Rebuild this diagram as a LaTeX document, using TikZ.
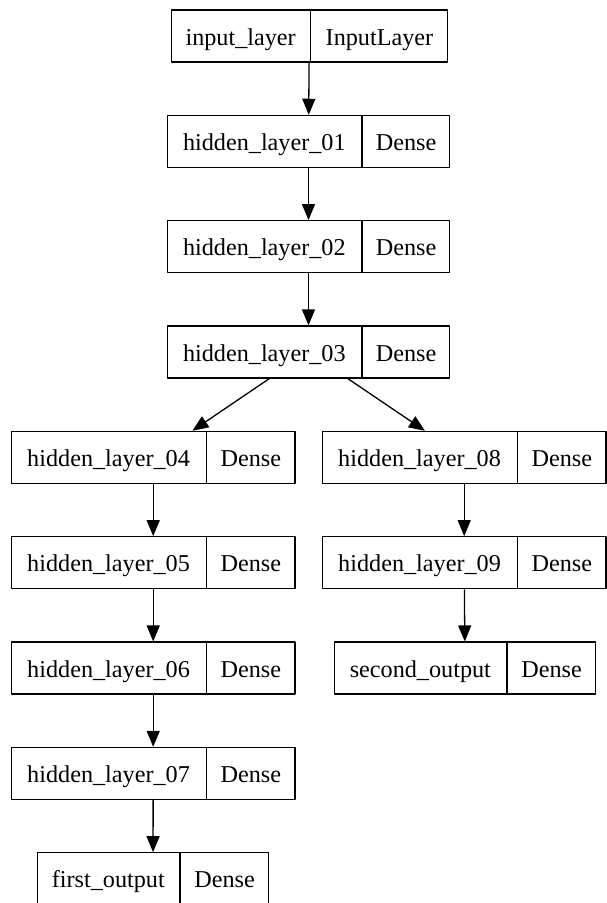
\documentclass[tikz,border=0pt]{standalone}
\usepackage{fontspec}
\setmainfont{Liberation Serif}
\usetikzlibrary{shapes.multipart,arrows.meta}

\newcommand\recfields[4]{\makebox[#1pt]{\rule[-17pt]{0pt}{52pt}#2}\nodepart{two}\makebox[#3pt]{\rule[-17pt]{0pt}{52pt}#4}}

\tikzset{
  layer/.style={draw, line width=1.3pt, rectangle split, rectangle split horizontal,
    rectangle split parts=2, inner sep=0pt, font=\fontsize{24.2}{29}\selectfont},
  flow/.style={-{Triangle[length=16pt,width=13pt]}, line width=1.3pt}
}

\begin{document}
\begin{tikzpicture}[x=1pt, y=-1pt, line join=round]
  \useasboundingbox (0,0) rectangle (606,903);

  % main trunk
  \node[layer] (lin) at (309.3,36)   {\recfields{139}{input\_layer}{136}{InputLayer}};
  \node[layer] (l01) at (308.5,141.4) {\recfields{194}{hidden\_layer\_01}{87}{Dense}};
  \node[layer] (l02) at (308.5,246.7) {\recfields{194}{hidden\_layer\_02}{87}{Dense}};
  \node[layer] (l03) at (308.5,352)   {\recfields{194}{hidden\_layer\_03}{87}{Dense}};

  % left branch
  \node[layer] (l04) at (153.2,457.4) {\recfields{194}{hidden\_layer\_04}{88}{Dense}};
  \node[layer] (l05) at (153.2,562.8) {\recfields{194}{hidden\_layer\_05}{88}{Dense}};
  \node[layer] (l06) at (153.2,668.1) {\recfields{194}{hidden\_layer\_06}{88}{Dense}};
  \node[layer] (l07) at (153.2,773.5) {\recfields{194}{hidden\_layer\_07}{88}{Dense}};
  \node[layer] (out1) at (153,878.8)  {\recfields{142}{first\_output}{88}{Dense}};

  % right branch
  \node[layer] (l08) at (464.2,457.4) {\recfields{194}{hidden\_layer\_08}{88}{Dense}};
  \node[layer] (l09) at (464.2,562.8) {\recfields{194}{hidden\_layer\_09}{88}{Dense}};
  \node[layer] (out2) at (465,668.1)  {\recfields{172}{second\_output}{88}{Dense}};

  \draw[flow] (lin) -- (l01);
  \draw[flow] (l01) -- (l02);
  \draw[flow] (l02) -- (l03);
  \draw[flow] (l03) -- (l04);
  \draw[flow] (l03) -- (l08);
  \draw[flow] (l04) -- (l05);
  \draw[flow] (l05) -- (l06);
  \draw[flow] (l06) -- (l07);
  \draw[flow] (l07) -- (out1);
  \draw[flow] (l08) -- (l09);
  \draw[flow] (l09) -- (out2);
\end{tikzpicture}
\end{document}
